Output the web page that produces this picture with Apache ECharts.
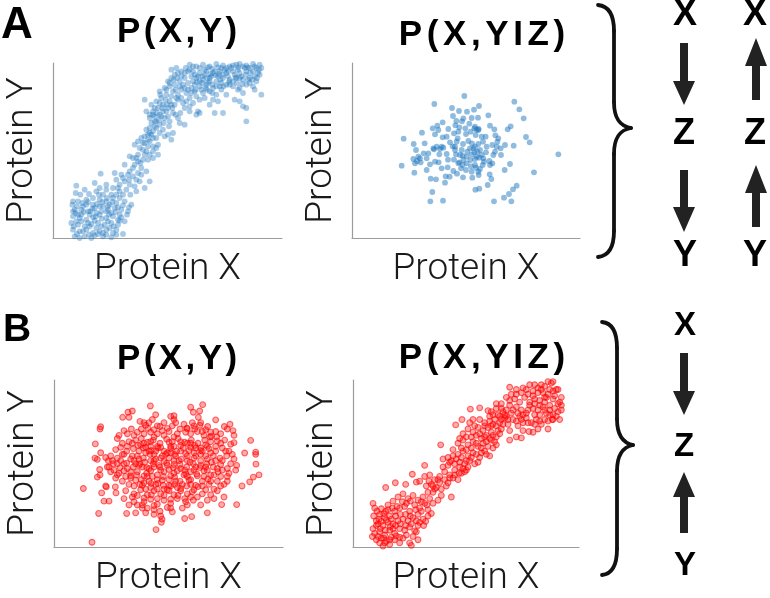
<!DOCTYPE html>
<html>
<head>
<meta charset="utf-8">
<script src="https://cdn.jsdelivr.net/npm/echarts@6/dist/echarts.min.js"></script>
<style>
  html, body { margin: 0; padding: 0; background: #fff; }
  #chart { width: 770px; height: 598px; }
</style>
</head>
<body>
<div id="chart"></div>
<script>
// point positions, in the panel's own units (y grows downward)
const pointsA1 = [
  [70,383],[68,405],[95,395],[130,400],[160,395],[143,347],[125,375],[185,345],[190,365],
  [60,430],[75,430],[100,425],[120,420],[140,425],[160,430],[180,420],[200,420],[215,430],[235,440],
  [65,455],[85,455],[105,460],[125,450],[145,460],[165,455],[185,450],[205,455],[225,460],
  [60,475],[80,480],[100,485],[120,478],[140,470],[160,480],[180,475],[200,470],[215,490],
  [55,495],[75,500],[95,505],[115,498],[135,495],[155,500],[175,495],[195,500],
  [60,515],[80,520],[100,515],[120,525],[140,520],[160,515],[180,525],
  [65,535],[95,535],[125,532],[150,535],[190,530],[210,528],
  [110,470],[130,465],[150,445],[170,440],[190,435],[90,445],[150,410],[175,410],[200,400],[220,395],
  [230,380],[245,385],[260,370],[215,370],[240,355],[255,345],[230,340],[215,320],[245,320],[265,330],[290,370],[275,390],
  [240,300],[255,290],[270,305],[280,280],[260,270],[245,260],[275,255],[290,250],[300,265],[315,290],[230,295],
  [265,240],[285,230],[300,220],[280,215],[310,210],[295,195],[320,200],[330,215],[345,230],[355,245],[360,225],
  [290,180],[305,175],[320,170],[335,180],[350,190],[300,160],[315,150],[330,140],[345,150],[360,165],[375,180],[380,195],
  [280,160],[295,140],[310,130],[325,120],[340,110],[350,130],[365,140],[370,120],[390,135],[395,150],[410,160],[430,170],[440,165],[395,200],
  [275,125],[320,100],[335,90],[350,85],[360,100],[375,110],[385,95],[390,80],[400,105],[410,120],[420,135],
  [345,70],[355,60],[365,50],[375,45],[380,70],[395,60],[405,75],[415,90],[425,100],[415,55],[370,30],[355,35],
  [410,20],[430,25],[450,20],[470,25],[490,18],[510,22],[530,25],[550,20],[560,18],[580,22],[600,18],[620,20],[625,30],
  [420,40],[440,45],[460,40],[480,45],[500,40],[520,45],[540,40],[560,45],[580,40],[600,40],[615,45],
  [430,60],[450,65],[470,60],[490,70],[510,60],[530,65],[550,60],[570,65],[590,60],[610,70],[600,85],
  [440,85],[460,80],[480,90],[500,85],[520,80],[540,85],[560,90],[580,80],[605,95],
  [450,105],[470,100],[490,110],[520,110],[545,125],[570,105],[625,110],
  [470,140],[485,165],[510,165],[435,160],[570,145],[580,150],[580,190],[560,130],[495,130],[440,125],
  [395,45],[405,40],[385,55],[420,70],[440,70],[455,50],[465,75],[475,55],[485,40],[495,55],[505,75],[515,35],
  [525,55],[535,30],[545,50],[555,35],[565,55],[575,30],[590,30],[610,30],
  [300,240],[290,210],[310,190],[325,175],[340,160],[355,140],[320,135],[330,160],[345,175],[305,205],
  [285,265],[270,275],[255,310],[240,330],[225,350],[210,360],[200,380],[180,390],[160,380],[140,390],
  [100,440],[120,440],[140,445],[160,460],[175,465],[195,485],[85,470],[70,490],[90,520],[110,505],
  [130,510],[150,525],[170,510],[190,515],[60,460],[75,470],
  [58,440],[72,445],[88,435],[105,432],[118,452],[132,438],[148,432],[165,445],[178,432],[195,448],[210,442],[228,448],
  [68,465],[92,462],[112,460],[128,475],[146,482],[168,470],[188,462],[205,478],[222,470],
  [62,505],[85,490],[105,495],[125,488],[145,505],[165,490],[182,505],[200,488],
  [72,528],[108,530],[135,528],[160,530],[115,540],[80,540],[175,538],
  [82,410],[108,408],[138,410],[162,420],[190,410],[210,410],[232,410],[250,400],[228,365],[205,350],[195,390],[250,365],[265,350],[280,340],
  [250,300],[262,315],[275,290],[290,290],[300,280],[310,270],[270,255],[255,250],[285,245],[295,230],[310,240],[320,225],
  [335,235],[315,260],[300,300],[285,305],[275,235],[290,225],[305,190],[318,185],[332,195],[348,205],[300,170],[312,165],
  [328,150],[342,140],[358,150],[368,170],[382,165],[290,170],[305,150],[322,110],[338,125],[355,115],[368,95],[380,85],
  [395,90],[405,95],[385,120],[400,130],[415,105],[430,115],[340,95],[350,75],[362,65],[372,60],[385,40],[398,30],
  [410,35],[365,80],[375,125],[410,145],
  [420,25],[440,30],[455,35],[465,28],[478,32],[495,28],[505,30],[520,30],[540,22],[555,28],[570,25],[585,28],[605,25],[618,35],
  [425,50],[435,55],[448,55],[462,60],[472,48],[488,52],[498,48],[510,50],[525,40],[548,58],[560,60],[578,50],[592,45],[605,55],[620,50],
  [425,80],[432,72],[448,75],[458,90],[470,70],[478,80],[490,85],[502,65],[512,85],[528,72],[540,70],[552,75],[568,78],[585,65],[598,65],
  [428,95],[445,95],[462,95],[478,105],[505,95],[530,80],[555,95],[590,75],[612,60],[455,120],[480,125]
];

const pointsA2 = [
  [253,33],[163,57],[403,50],[418,73],[431,100],[216,69],[237,78],[261,80],[282,74],[297,63],[219,93],[275,99],[294,98],[325,91],
  [229,108],[246,109],[268,116],[188,112],[172,122],[158,130],[205,132],[226,121],[238,127],[256,130],[283,130],[290,134],
  [296,132],[330,122],[343,133],[383,133],[392,124],[126,143],[165,148],[188,157],[200,155],[222,145],[233,160],[258,147],
  [272,140],[287,150],[305,155],[317,155],[346,151],[355,160],[438,156],[449,172],[71,161],[101,177],[134,175],[170,185],
  [180,192],[190,188],[210,172],[218,184],[230,170],[249,177],[265,168],[276,175],[285,185],[295,177],[309,170],[320,185],
  [337,180],[352,170],[362,190],[375,180],[401,182],[535,208],
  [108,195],[131,205],[145,205],[162,193],[178,208],[200,207],[228,208],[240,210],[248,212],[262,200],[275,208],[283,202],
  [292,200],[305,210],[318,202],[345,200],[363,210],[100,222],[111,228],[122,232],[140,220],[165,230],[176,232],[204,224],
  [222,224],[238,232],[248,240],[260,235],[271,225],[285,222],[298,218],[312,230],[328,228],[337,235],[390,237],[65,242],
  [105,235],[150,238],[185,250],[203,247],[220,258],[243,250],[258,255],[273,244],[288,248],[300,252],[308,240],[374,255],
  [462,262],[103,263],[140,255],[152,281],[168,283],[197,274],[209,275],[231,266],[249,277],[277,278],[296,270],[329,268],
  [334,282],[195,293],[323,300],[286,314],[298,311],[410,302],[399,313],[387,327],[157,321],[151,349],[189,347],[342,349],
  [372,338],[394,349],
  [280,190],[290,215],[300,195],[270,190],[260,215],[245,195],[235,235],[285,240],[295,260],[275,260],[250,225],[310,220],
  [295,135],[285,125],[225,195],[330,240],[340,210],[350,185],[120,220],[115,215],[160,190],[185,185],[175,135],[235,140],
  [250,100],[225,185]
];

const pointsB1 = [
  [88,358],[114,528],[306,488],[289,97],[235,113],[222,117],[206,133],[225,133],[410,101],[418,117],[446,93],[437,113],
  [433,133],[140,163],[138,170],[124,217],[134,437],[218,437],[245,435],[150,398],[165,398],[143,372],[157,353],[590,206],
  [605,243],[605,250],[572,246],[606,281],[615,315],[598,322],[587,337],[564,350],[548,409],[503,409],[460,435],[413,447],
  [392,453],[322,465],[324,455],[528,155],[511,162],[537,175],[540,190],[540,213],[485,141],[485,178],[461,162],[438,158],
  [472,193],[123,262],[130,266],[140,245],[137,298],[138,315],[130,322],[155,350],[186,372],[184,353],[165,290],[163,270],
  [258,146],[275,158],[295,140],[305,125],[360,140],[365,150],[390,155],[420,160],[440,150],[455,172],[355,160],[330,150],[310,160],
  [195,190],[210,175],[232,170],[250,180],[270,185],[290,180],[310,185],[325,175],[345,178],[370,185],[395,180],[410,185],
  [430,178],[450,190],[470,180],[500,185],[520,170],
  [190,200],[205,215],[225,210],[245,205],[262,200],[280,212],[298,205],[318,215],[338,202],[355,210],[372,200],[392,212],
  [412,205],[432,215],[452,205],[470,210],[490,208],[512,205],[530,218],
  [185,235],[200,228],[218,240],[238,232],[255,240],[275,228],[292,238],[312,230],[330,240],[350,232],[368,240],[388,230],
  [405,238],[425,230],[445,240],[465,232],[485,240],[505,230],[525,240],[155,260],
  [170,255],[190,262],[210,250],[230,265],[250,255],[268,262],[288,250],[305,265],[325,255],[345,262],[362,250],[382,265],
  [400,255],[420,262],[440,250],[460,265],[478,255],[498,262],[518,255],[540,265],
  [160,290],[178,280],[198,292],[218,278],[238,290],[258,280],[278,292],[298,280],[318,290],[338,278],[358,292],[378,282],
  [398,290],[418,280],[438,292],[458,280],[478,290],[500,282],[520,295],[548,285],
  [170,305],[190,315],[210,302],[230,318],[250,305],[270,318],[290,302],[310,315],[330,305],[350,318],[370,302],[390,315],
  [410,305],[430,318],[450,302],[470,315],[492,305],[520,320],[545,300],[185,325],
  [205,335],[225,345],[245,332],[265,348],[285,335],[305,345],[325,332],[345,348],[365,335],[385,345],[405,332],[425,348],
  [445,335],[465,345],[490,335],[520,335],[500,350],
  [215,365],[240,375],[260,362],[280,378],[300,365],[320,375],[340,362],[360,378],[380,365],[400,375],[420,362],[445,375],
  [470,378],[490,365],[510,385],[430,385],
  [210,390],[235,385],[250,410],[270,400],[290,392],[310,408],[330,395],[350,405],[370,390],[395,400],[410,385],[440,410],
  [265,410],[280,420],[300,425],[318,430],[340,418],[355,432],[385,420],[400,410],[300,412],
  [285,240],[300,250],[320,262],[340,245],[360,270],[380,240],[400,270],[420,245],[300,290],[320,300],[340,285],[360,310],
  [380,295],[400,320],[280,320],[265,290],[255,265],[245,280],[235,255],[310,225],[360,225],[410,215],[420,300],[440,285],
  [450,320],[270,340],[290,355],[310,330],[330,360],[350,350],[230,305],[215,320],[200,270],[205,250],[440,230],[455,255],
  [460,300],[470,335],[360,195],[300,195],[270,215],[330,190],[350,245],[290,270],[410,345],[370,355],
  [260,220],[275,245],[290,225],[305,240],[320,228],[335,250],[350,225],[365,255],[380,222],[395,248],[410,228],[425,255],
  [440,238],[455,220],[470,245],[485,225],
  [240,270],[255,285],[272,275],[285,295],[300,270],[315,285],[330,272],[345,298],[360,282],[375,270],[392,300],[408,275],
  [425,290],[440,270],[455,290],[472,275],[490,295],[505,270],
  [230,325],[248,315],[262,330],[278,310],[295,320],[312,342],[328,320],[345,330],[362,322],[378,335],[395,312],[410,330],
  [428,312],[445,350],[462,328],[480,315],[500,320],
  [240,350],[258,345],[275,360],[292,342],[310,360],[328,348],[345,365],[362,345],[380,358],[398,350],[415,368],[432,352],[455,362],
  [250,380],[270,388],[292,378],[310,390],[330,380],[350,392],[372,380],[392,390],[418,395],[460,395],[480,390],
  [220,185],[240,190],[262,170],[282,168],[300,172],[318,162],[340,168],[378,170],[400,168],[422,170],[445,178],[468,195],[488,195],
  [220,225],[235,215],[252,222],[268,230],[290,210],[345,212],[380,210],[400,215],[422,222],[460,225],[500,215],[515,240],
  [210,280],[195,310],[220,295],[180,300],[175,270],[190,280],[530,280],[525,310],[535,250],[505,300],[485,270],[510,345],[480,360],
  [300,440],[320,445],[275,435],[350,420],[265,420],[240,400],[225,410],[270,150],[285,150],[350,130],[360,128],[398,168],[415,150]
];

const pointsB2 = [
  [60,405],[72,430],[85,422],[98,430],[62,445],[78,455],[95,450],[110,445],[125,430],[140,420],[155,415],[170,430],
  [185,410],[200,420],[215,405],[225,425],[235,437],[60,485],[75,470],[90,475],[105,465],[120,470],[135,460],[150,455],
  [165,460],[180,450],[195,440],[210,455],[65,500],[80,495],[95,505],[110,490],[125,500],[140,485],[155,490],[170,480],
  [185,492],[200,465],[218,462],[70,520],[85,515],[100,525],[115,512],[130,508],[150,515],[190,495],[90,540],[95,530],
  [170,530],[175,538],[120,485],[105,410],[120,398],[135,385],[150,375],[165,390],[180,380],[195,395],[210,385],[230,390],
  [98,355],[127,340],[178,313],[158,345],[190,338],
  [215,285],[200,335],[215,320],[230,315],[245,330],[260,320],[275,305],[290,315],[305,300],[320,290],[335,305],[220,350],
  [235,345],[250,355],[265,360],[280,350],[295,385],[255,395],[240,370],[265,380],[285,340],[300,325],[315,330],[325,310],
  [263,220],[270,265],[285,260],[300,255],[315,250],[330,240],[345,255],[360,245],[380,260],[395,240],[410,255],[290,275],
  [305,280],[320,275],[335,280],[350,270],[365,280],[300,235],[315,215],[330,205],[345,220],[360,210],[375,225],[390,215],
  [405,225],[420,230],[425,210],[330,185],[345,170],[360,180],[375,165],[390,175],[400,190],[415,180],[430,195],[308,157],
  [327,140],[352,107],[380,103],[405,112],[325,230],[340,300],
  [380,140],[395,150],[410,130],[425,140],[440,150],[455,135],[465,155],[480,140],[495,160],[510,150],[520,135],[535,150],
  [550,140],[565,155],[585,145],[600,140],[470,205],[490,195],[505,198],[540,180],[555,170],[585,170],[430,90],[445,105],
  [460,110],[475,120],[490,100],[505,110],[520,120],[540,105],[555,110],[570,100],[590,95],[605,105],[625,110],[470,80],
  [485,75],[500,85],[515,70],[530,85],[545,75],[560,80],[580,70],[600,75],[620,85],[470,38],[490,60],[505,55],[520,45],
  [540,50],[555,40],[570,55],[585,60],[600,50],[615,45],[625,70],[545,30],[575,35],[595,25],[600,20],[610,45],[450,115],
  [435,125],[415,115],[460,130],[500,130],[560,125],[580,120],[598,140],[610,130],[545,125],[530,95],[575,85],[470,95],
  [420,155],[445,170],[360,140],[365,160],[350,150],
  [65,420],[80,440],[92,438],[105,425],[118,420],[132,415],[148,400],[160,405],[172,398],[188,425],[205,400],[222,410],[240,405],
  [70,460],[85,462],[100,458],[115,455],[128,445],[142,440],[158,440],[172,445],[190,460],[205,430],[225,445],
  [70,475],[82,485],[97,490],[112,478],[128,475],[142,470],[158,475],[175,470],[195,475],[212,475],
  [58,510],[75,510],[92,515],[110,520],[125,520],[140,512],[160,505],[180,510],[80,530],[110,535],[140,530],[195,520],
  [225,370],[245,360],[260,340],[275,330],[290,325],[305,315],[318,310],[330,295],[345,290],[255,330],[240,350],[228,335],
  [270,290],[285,285],[295,270],[310,265],[325,260],[340,270],[355,260],[370,250],[385,245],[400,250],[375,275],[385,230],
  [400,210],[415,205],[430,220],[340,235],[355,230],[370,215],[385,200],[395,195],[410,200],[420,190],[435,175],[440,185],
  [320,200],[340,195],[355,195],[370,190],[380,185],[395,160],[405,165],[415,160],[410,145],[430,160],[445,140],[450,155],
  [460,70],[475,60],[490,45],[510,40],[525,60],[540,65],[555,55],[565,45],[575,70],[590,45],[605,65],[615,90],[625,95],
  [480,110],[495,120],[510,125],[525,110],[545,90],[560,95],[575,110],[590,110],[600,125],[615,115],[620,140],
  [465,140],[490,145],[505,140],[525,150],[545,155],[560,145],[575,140],[440,130],[455,125],[445,90],[430,105],[420,125],
  [470,175],[510,175],[528,178],[590,125],[565,30],[585,20],[530,30]
];

const AXIS_GRAY = '#9c9c9c'
const INK = '#1a1a1a'
const BLUE_A1 = 'rgba(28,118,190,0.48)'
const BLUE_A2 = 'rgba(28,118,190,0.62)'

// panel frames: grid box + axis range in the units above
const panels = [
  { grid: { left: 53, top: 63, width: 229, height: 175 }, x: [0, 687], y: [15, 540] },
  { grid: { left: 352, top: 63, width: 228, height: 175 }, x: [-84, 600], y: [-66, 459] },
  { grid: { left: 54, top: 380, width: 229, height: 176 }, x: [0, 687], y: [15, 543] },
  { grid: { left: 353, top: 380, width: 226, height: 176 }, x: [0, 678], y: [15, 543] },
]

const axisName = { fontFamily: 'Roboto', fontWeight: 300, fontSize: 37, color: INK }

function axis(range, name, isY) {
  return {
    type: 'value',
    min: range[0],
    max: range[1],
    inverse: !!isY,
    name,
    nameLocation: 'middle',
    nameGap: isY ? 12 : 13,
    nameTextStyle: axisName,
    axisLine: { show: true, onZero: false, lineStyle: { color: AXIS_GRAY, width: 1.2 } },
    axisTick: { show: false },
    axisLabel: { show: false },
    splitLine: { show: false },
  }
}

// bold headings with a bit of letter spacing
function heading(str, x, y, size, gap) {
  const parts = str.split('').map(c => '{t|' + c + '}').join('')
  return {
    type: 'text', x, y, silent: true,
    style: {
      text: parts, align: 'center', verticalAlign: 'middle',
      rich: { t: { fontFamily: 'Liberation Sans', fontWeight: 'bold', fontSize: size, fill: '#000', padding: [0, gap] } },
    },
  }
}

function letter(str, x, y, size) {
  return {
    type: 'text', x, y, silent: true,
    style: { text: str, align: 'center', verticalAlign: 'middle',
      font: 'bold ' + size + 'px "Liberation Sans"', fill: '#000' },
  }
}

// vertical arrow: shaft half width 4, head half width 11
function arrow(cx, y0, yBase, yTip) {
  const s = 4, h = 11
  return {
    type: 'polygon', silent: true,
    shape: { points: [[cx - s, y0], [cx + s, y0], [cx + s, yBase], [cx + h, yBase], [cx, yTip], [cx - h, yBase], [cx - s, yBase]] },
    style: { fill: '#222' },
  }
}

function brace(xe, xv, xt, yTop, yMid, yBot) {
  const st = { stroke: '#111', lineWidth: 3.8, fill: null, lineCap: 'round' }
  const curve = (x1, y1, c1x, c1y, c2x, c2y, x2, y2) => ({
    type: 'bezierCurve', silent: true,
    shape: { x1, y1, cpx1: c1x, cpy1: c1y, cpx2: c2x, cpy2: c2y, x2, y2 }, style: st,
  })
  return [
    curve(xe, yTop, xe + 10, yTop + 1, xv, yTop + 9, xv, yTop + 26),
    { type: 'line', silent: true, shape: { x1: xv, y1: yTop + 26, x2: xv, y2: yMid - 26 }, style: st },
    curve(xv, yMid - 26, xv, yMid - 9, xv + 6, yMid - 2, xt, yMid),
    curve(xt, yMid, xv + 6, yMid + 2, xv, yMid + 9, xv, yMid + 26),
    { type: 'line', silent: true, shape: { x1: xv, y1: yMid + 26, x2: xv, y2: yBot - 26 }, style: st },
    curve(xv, yBot - 26, xv, yBot - 9, xe + 10, yBot - 1, xe, yBot),
  ]
}

const chart = echarts.init(document.getElementById('chart'), null, { renderer: 'canvas' })

const redStyle = { color: 'rgba(255,0,0,0.42)', borderColor: 'rgba(255,0,0,0.7)', borderWidth: 1.1 }

chart.setOption({
  animation: false,
  backgroundColor: '#fff',
  grid: panels.map(p => p.grid),
  xAxis: panels.map((p, i) => Object.assign(axis(p.x, 'Protein X', false), { gridIndex: i })),
  yAxis: panels.map((p, i) => Object.assign(axis(p.y, 'Protein Y', true), { gridIndex: i })),
  series: [
    { type: 'scatter', xAxisIndex: 0, yAxisIndex: 0, data: pointsA1, symbolSize: 5.8, itemStyle: { color: BLUE_A1 } },
    { type: 'scatter', xAxisIndex: 1, yAxisIndex: 1, data: pointsA2, symbolSize: 5.8, itemStyle: { color: BLUE_A2 } },
    { type: 'scatter', xAxisIndex: 2, yAxisIndex: 2, data: pointsB1, symbolSize: 5.8, itemStyle: redStyle },
    { type: 'scatter', xAxisIndex: 3, yAxisIndex: 3, data: pointsB2, symbolSize: 5.8, itemStyle: redStyle },
  ],
  graphic: [
    letter('A', 17, 26, 44),
    letter('B', 17, 330, 39),
    heading('P(X,Y)', 177, 32, 35, 1.7),
    heading('P(X,YIZ)', 482, 35, 35, 2.3),
    heading('P(X,Y)', 177, 359, 35, 1.7),
    heading('P(X,YIZ)', 482, 358, 35, 2.3),
    // A: chain and fork
    ...brace(598, 614, 631, 5, 128, 257),
    letter('X', 685, 15, 36), letter('Z', 684, 134, 36), letter('Y', 685, 256, 36),
    arrow(684, 43, 81, 105), arrow(684, 170, 207, 232),
    letter('X', 755, 15, 36), letter('Z', 755, 134, 36), letter('Y', 755, 256, 36),
    arrow(756, 100, 66, 38), arrow(756, 227, 193, 165),
    // B: collider
    ...brace(602, 617, 633, 322, 445, 575),
    letter('X', 685, 326, 33), letter('Z', 684, 447, 33), letter('Y', 685, 566, 33),
    arrow(684, 353, 391, 415), arrow(684, 533, 497, 472),
  ],
})
</script>
</body>
</html>
